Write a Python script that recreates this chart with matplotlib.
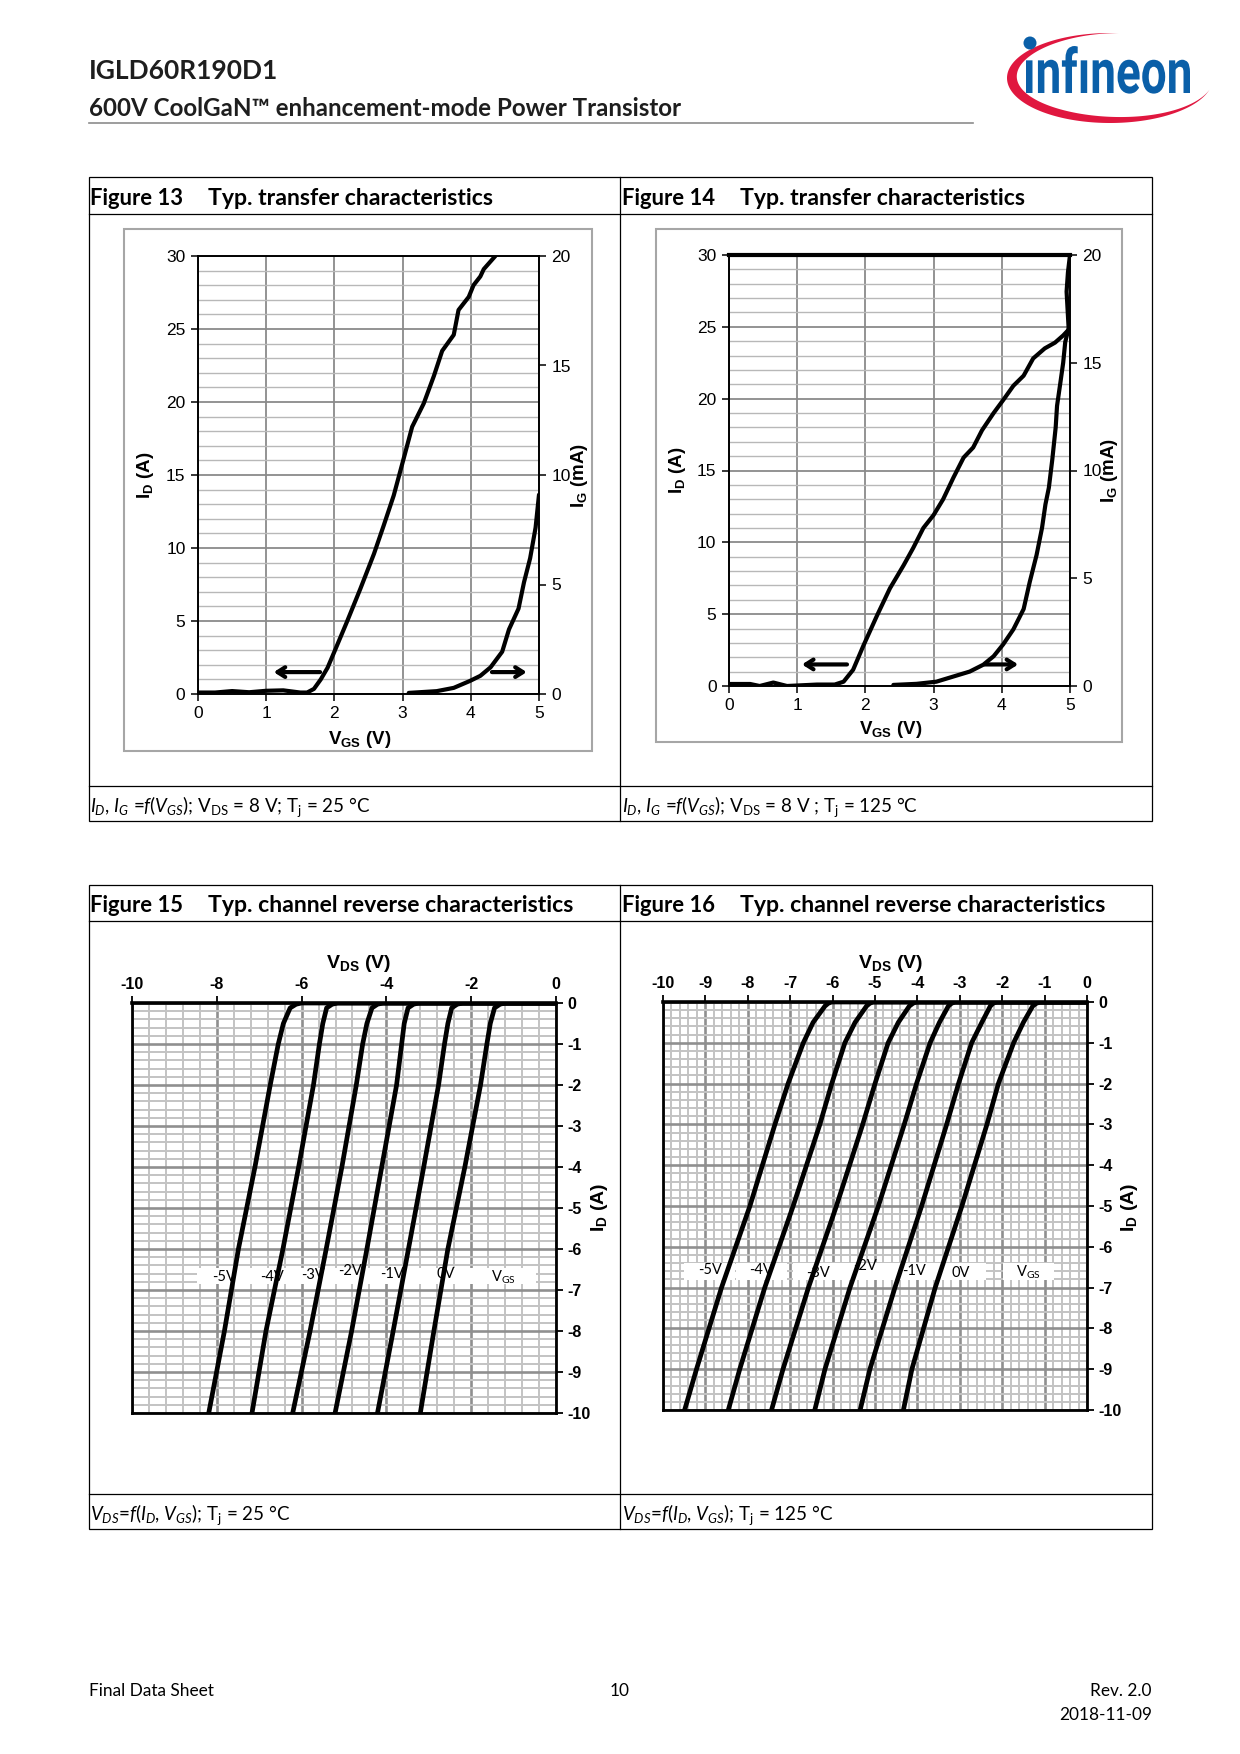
import numpy as np
import matplotlib.pyplot as plt
from matplotlib.patches import Rectangle, Polygon, PathPatch, Circle
from matplotlib.textpath import TextPath
from matplotlib.font_manager import FontProperties
from matplotlib.transforms import Affine2D

plt.rcParams['axes.unicode_minus'] = False
plt.rcParams['mathtext.fontset'] = 'custom'
plt.rcParams['mathtext.rm'] = 'Lato'
plt.rcParams['mathtext.it'] = 'Lato:italic'
plt.rcParams['mathtext.bf'] = 'Liberation Sans:bold'

DOC = 'Lato'              # datasheet text
CH = 'Liberation Sans'    # chart text

# ---- Figure 13: transfer characteristics, Tj = 25 C ----
vgs13_id = [0.0, 0.25, 0.5, 0.75, 1.0, 1.25, 1.5, 1.6, 1.7, 1.8, 1.9, 2.0, 2.18, 2.38,
            2.58, 2.72, 2.87, 3.02, 3.14, 3.31, 3.46, 3.58, 3.75, 3.82, 3.97, 4.04,
            4.14, 4.19, 4.36]
id13 = [0.1, 0.1, 0.2, 0.12, 0.22, 0.25, 0.1, 0.1, 0.35, 1.0, 1.8, 2.9, 4.9, 7.2,
        9.6, 11.5, 13.6, 16.2, 18.3, 19.9, 21.8, 23.5, 24.6, 26.3, 27.2, 28.0,
        28.6, 29.1, 30.0]
vgs13_ig = [3.09, 3.5, 3.75, 3.99, 4.14, 4.29, 4.46, 4.56, 4.70, 4.78, 4.87, 4.95, 5.0]
ig13 = [0.05, 0.13, 0.28, 0.6, 0.83, 1.22, 1.93, 2.95, 3.9, 5.1, 6.2, 7.6, 9.1]

# ---- Figure 14: transfer characteristics, Tj = 125 C ----
vgs14_id = [0.0, 0.31, 0.45, 0.65, 0.85, 1.29, 1.55, 1.68, 1.82, 1.97, 2.17, 2.36,
            2.56, 2.70, 2.85, 3.00, 3.14, 3.29, 3.44, 3.58, 3.71, 3.88, 4.02, 4.17,
            4.32, 4.46, 4.63, 4.78, 4.90, 5.0]
id14 = [0.14, 0.14, 0.0, 0.24, 0.0, 0.1, 0.1, 0.3, 1.13, 2.8, 4.9, 6.8,
        8.4, 9.6, 11.0, 11.9, 13.0, 14.5, 15.9, 16.6, 17.8, 19.0, 19.9, 20.9,
        21.6, 22.8, 23.5, 23.9, 24.4, 24.9]
vgs14_ig = [2.41, 2.75, 3.04, 3.29, 3.53, 3.73, 3.88, 4.02, 4.17, 4.32, 4.41, 4.51,
            4.59, 4.64, 4.69, 4.74, 4.79, 4.81, 4.86, 4.90, 4.93, 4.98, 4.95, 4.97, 5.0]
ig14 = [0.05, 0.1, 0.2, 0.44, 0.67, 0.99, 1.38, 1.93, 2.63, 3.57, 4.83, 6.08,
        7.34, 8.43, 9.2, 10.5, 12.0, 13.0, 14.1, 15.0, 15.96, 16.6, 18.3, 19.2, 20.0]

# arrows: (tail V, head V, level in A)
arrows13 = [(1.79, 1.11, 1.5), (4.31, 4.82, 1.5)]
arrows14 = [(1.73, 1.07, 1.5), (3.75, 4.24, 1.5)]

# ---- Figure 15: reverse characteristics, Tj = 25 C ----
vgs_labels = ['-5V', '-4V', '-3V', '-2V', '-1V', '0V']
id15 = [0, 0, -0.03, -0.12, -0.5, -1, -2, -4, -6, -8, -10]
vds15 = [
    [0, -6.00, -6.13, -6.27, -6.43, -6.55, -6.74, -7.10, -7.49, -7.82, -8.19],
    [0, -5.15, -5.28, -5.41, -5.50, -5.58, -5.72, -6.07, -6.44, -6.84, -7.17],
    [0, -4.08, -4.21, -4.34, -4.46, -4.56, -4.71, -5.05, -5.42, -5.80, -6.21],
    [0, -3.24, -3.36, -3.49, -3.58, -3.64, -3.76, -4.11, -4.46, -4.82, -5.21],
    [0, -2.20, -2.33, -2.46, -2.55, -2.63, -2.77, -3.12, -3.48, -3.84, -4.21],
    [0, -1.20, -1.32, -1.45, -1.55, -1.63, -1.78, -2.15, -2.55, -2.88, -3.20],
]
lab15_x = [-7.84, -6.70, -5.72, -4.85, -3.87, -2.61, -1.24]
lab15_y = [-6.68, -6.68, -6.64, -6.54, -6.60, -6.62, -6.68]

# ---- Figure 16: reverse characteristics, Tj = 125 C ----
id16 = [0, 0, -0.03, -0.1, -0.5, -1, -2, -3, -5, -7, -9, -10]
vds16 = [
    [0, -6.02, -6.10, -6.18, -6.46, -6.69, -7.05, -7.36, -7.95, -8.62, -9.21, -9.49],
    [0, -5.04, -5.12, -5.20, -5.47, -5.71, -6.02, -6.30, -6.93, -7.60, -8.19, -8.46],
    [0, -4.02, -4.10, -4.19, -4.45, -4.69, -5.00, -5.29, -5.91, -6.57, -7.17, -7.44],
    [0, -3.11, -3.19, -3.27, -3.48, -3.70, -4.02, -4.31, -4.92, -5.59, -6.18, -6.42],
    [0, -2.13, -2.21, -2.28, -2.48, -2.72, -3.03, -3.31, -3.90, -4.53, -5.12, -5.35],
    [0, -1.10, -1.19, -1.28, -1.50, -1.73, -2.09, -2.36, -2.95, -3.58, -4.13, -4.33],
]
lab16_x = [-8.90, -7.68, -6.34, -5.24, -4.09, -2.99, -1.38]
lab16_y = [-6.57, -6.57, -6.64, -6.48, -6.60, -6.64, -6.62]

W, H = 1240, 1754
fig = plt.figure(figsize=(W / 100, H / 100), dpi=100)

# full-page axes in pixel coordinates for frames, texts and logo
page = fig.add_axes([0, 0, 1, 1], zorder=0)
page.set_xlim(0, W)
page.set_ylim(H, 0)
page.axis('off')


def chart_ax(x0, y0, x1, y1):
    return fig.add_axes([x0 / W, 1 - y1 / H, (x1 - x0) / W, (y1 - y0) / H], zorder=2)


def ptext(x, y, s, **kw):
    kw.setdefault('family', DOC)
    kw.setdefault('va', 'center')
    page.text(x, y, s, **kw)


# ---- header ----
ptext(89, 71, 'IGLD60R190D1', size=19, weight='bold', color='#1e1e1e')
ptext(89, 109, '600V CoolGaN™ enhancement-mode Power Transistor', size=17.4,
      weight='bold', color='#1e1e1e')
page.plot([89, 973], [123, 123], color='#8c8c8c', lw=1.2)

# logo
RED = '#e0173f'
BLUE = '#0a5fa8'
th = np.radians(np.linspace(85, 345, 200))
prof = 11 * np.sin(np.pi * (th - th[0]) / (th[-1] - th[0])) ** 1.2
cx, cy, a, b = 1110, 78, 103, 45
outer = np.c_[cx + a * np.cos(th), cy - b * np.sin(th)]
inner = np.c_[cx + (a - prof) * np.cos(th), cy - (b - 0.75 * prof) * np.sin(th)]
page.add_patch(Polygon(np.vstack([outer, inner[::-1]]), closed=True, fc=RED, ec='none'))
tp = TextPath((0, 0), 'ınfıneon', size=100, prop=FontProperties(family='Roboto', weight='bold'))
ext = tp.get_extents()
sx = (1190 - 1026) / ext.width
sy = 47 / ext.ymax
tr = Affine2D().translate(-ext.xmin, 0).scale(sx, -sy).translate(1026, 93)
page.add_patch(PathPatch(tr.transform_path(tp), fc=BLUE, ec='none'))
page.add_patch(Circle((1030, 43), 6.5, fc=BLUE, ec='none'))


# ---- tables ----
def table(top, bottom, hdr, cap, titles, captions):
    page.add_patch(Rectangle((89, top), 1152 - 89, bottom - top, fill=False, ec='black', lw=0.9))
    page.plot([89, 1152], [hdr, hdr], color='black', lw=0.9)
    page.plot([89, 1152], [cap, cap], color='black', lw=0.9)
    page.plot([620, 620], [top, bottom], color='black', lw=0.9)
    for x0, (num, name) in zip([90, 622], titles):
        ptext(x0, (top + hdr) / 2 + 3, num, size=15.8, weight='bold')
        ptext(x0 + 118, (top + hdr) / 2 + 3, name, size=16.6, weight='bold')
    for x0, c in zip([90, 622], captions):
        ptext(x0, (cap + bottom) / 2 + 3, c, size=13.5)


table(177, 821, 214, 786,
      [('Figure 13', 'Typ. transfer characteristics'), ('Figure 14', 'Typ. transfer characteristics')],
      [r'$I_D$, $I_G$ =$f$($V_{GS}$); V$_{\mathrm{DS}}$ = 8 V; T$_{\mathrm{j}}$ = 25 °C',
       r'$I_D$, $I_G$ =$f$($V_{GS}$); V$_{\mathrm{DS}}$ = 8 V ; T$_{\mathrm{j}}$ = 125 °C'])
table(885, 1529, 921, 1494,
      [('Figure 15', 'Typ. channel reverse characteristics'),
       ('Figure 16', 'Typ. channel reverse characteristics')],
      [r'$V_{DS}$=$f$($I_D$, $V_{GS}$); T$_{\mathrm{j}}$ = 25 °C',
       r'$V_{DS}$=$f$($I_D$, $V_{GS}$); T$_{\mathrm{j}}$ = 125 °C'])


# ---- transfer charts ----
def transfer(box, frame, vid, idv, vig, igv, arrows, labpos, top_lw):
    page.add_patch(Rectangle((frame[0], frame[1]), frame[2] - frame[0], frame[3] - frame[1],
                             fill=False, ec='#a6a6a6', lw=1.5))
    ax = chart_ax(*box)
    ax.set_xlim(0, 5)
    ax.set_ylim(0, 30)
    ax.set_xticks([0, 1, 2, 3, 4, 5])
    ax.set_yticks([0, 5, 10, 15, 20, 25, 30])
    ax.set_yticks(range(0, 31), minor=True)
    ax.tick_params(which='minor', length=0)
    ax.tick_params(which='major', direction='out', length=5, width=1.1, pad=4,
                   labelsize=12.5, labelfontfamily=CH)
    ax.grid(which='minor', axis='y', color='#b8b8b8', lw=1.0)
    ax.grid(which='major', color='#8a8a8a', lw=1.3)
    ax.set_axisbelow(True)
    for s in ax.spines.values():
        s.set_linewidth(1.4)
    ax.spines['top'].set_linewidth(top_lw)
    ax.plot(vid, idv, color='black', lw=3.0, solid_capstyle='round')
    ax2 = ax.twinx()
    ax2.set_ylim(0, 20)
    ax2.set_yticks([0, 5, 10, 15, 20])
    ax2.tick_params(direction='out', length=5, width=1.1, pad=4, labelsize=12.5,
                    labelfontfamily=CH)
    ax2.plot(vig, igv, color='black', lw=3.0, solid_capstyle='round')
    for s in ax2.spines.values():
        s.set_visible(False)
    for t0, t1, lev in arrows:
        ax.annotate('', xy=(t1, lev), xytext=(t0, lev),
                    arrowprops=dict(arrowstyle='->,head_length=0.55,head_width=0.35',
                                    lw=3.0, color='black', shrinkA=0, shrinkB=0))
    (xl, yl), (xr, yr), (xb, yb) = labpos
    ptext(xl, yl, r'$\mathbf{I_D}$ (A)', family=CH, size=13.5, weight='bold',
          rotation=90, ha='center')
    ptext(xr, yr, r'$\mathbf{I_G}$ (mA)', family=CH, size=13.5, weight='bold',
          rotation=90, ha='center')
    ptext(xb, yb, r'$\mathbf{V_{GS}}$ (V)', family=CH, size=13.5, weight='bold', ha='center')
    return ax


transfer((198, 256, 539, 694), (124, 229, 592, 751), vgs13_id, id13, vgs13_ig, ig13,
         arrows13, [(146, 475), (579, 475), (360, 739)], 1.4)
transfer((729, 255, 1070, 686), (656, 229, 1122, 742), vgs14_id, id14, vgs14_ig, ig14,
         arrows14, [(677, 470), (1110, 470), (891, 730)], 3.0)


# ---- reverse charts ----
def reverse(box, xt, xminor, ids, curves, lab_x, lab_y, band):
    ax = chart_ax(*box)
    ax.set_xlim(-10, 0)
    ax.set_ylim(-10, 0)
    ax.xaxis.tick_top()
    ax.yaxis.tick_right()
    ax.set_xticks(xt)
    ax.set_yticks(list(range(-10, 1)))
    ax.set_xticks(np.arange(-10, 0.001, xminor), minor=True)
    ax.set_yticks(np.arange(-10, 0.001, 0.2), minor=True)
    ax.tick_params(which='minor', length=0)
    ax.tick_params(which='major', direction='out', length=5, width=1.3, pad=3,
                   labelsize=11.5)
    for lab in ax.get_xticklabels() + ax.get_yticklabels():
        lab.set_family(CH)
        lab.set_weight('bold')
    ax.grid(which='minor', color='#c3c3c3', lw=1.4)
    ax.grid(which='major', color='#8f8f8f', lw=1.9)
    ax.set_axisbelow(True)
    for s in ax.spines.values():
        s.set_linewidth(2.0)
    ax.spines['top'].set_linewidth(2.6)
    for v in curves:
        ax.plot(v, ids, color='black', lw=3.4, zorder=4, solid_joinstyle='round')
    names = vgs_labels + [r'V$_{\mathrm{GS}}$']
    if band:
        ax.add_patch(Rectangle((min(lab_x) - 0.62, -6.86), max(lab_x) - min(lab_x) + 1.38, 0.40,
                               fc='white', ec='none', zorder=2))
    else:
        for x, y in zip(lab_x, lab_y):
            ax.add_patch(Rectangle((x - 0.6, -6.82), 1.2, 0.42, fc='white', ec='none', zorder=2))
    for s, x, y in zip(names, lab_x, lab_y):
        ax.text(x, y, s, family=DOC, size=10.5, ha='center', va='center', zorder=3)
    return ax


reverse((132, 1003, 556, 1413), [-10, -8, -6, -4, -2, 0], 0.4, id15, vds15,
        lab15_x, lab15_y, True)
reverse((663, 1002, 1087, 1410), list(range(-10, 1)), 0.2, id16, vds16,
        lab16_x, lab16_y, False)

ptext(359, 964, r'$\mathbf{V_{DS}}$ (V)', family=CH, size=14, weight='bold', ha='center')
ptext(891, 964, r'$\mathbf{V_{DS}}$ (V)', family=CH, size=14, weight='bold', ha='center')
ptext(600, 1207, r'$\mathbf{I_D}$ (A)', family=CH, size=14, weight='bold', rotation=90, ha='center')
ptext(1130, 1207, r'$\mathbf{I_D}$ (A)', family=CH, size=14, weight='bold', rotation=90, ha='center')

# ---- footer ----
ptext(89, 1691, 'Final Data Sheet', size=12.4)
ptext(620, 1691, '10', size=12.4, ha='center')
ptext(1152, 1691, 'Rev. 2.0', size=12.4, ha='right')
ptext(1152, 1715, '2018-11-09', size=12.4, ha='right')

fig.savefig('out.png', dpi=100)
